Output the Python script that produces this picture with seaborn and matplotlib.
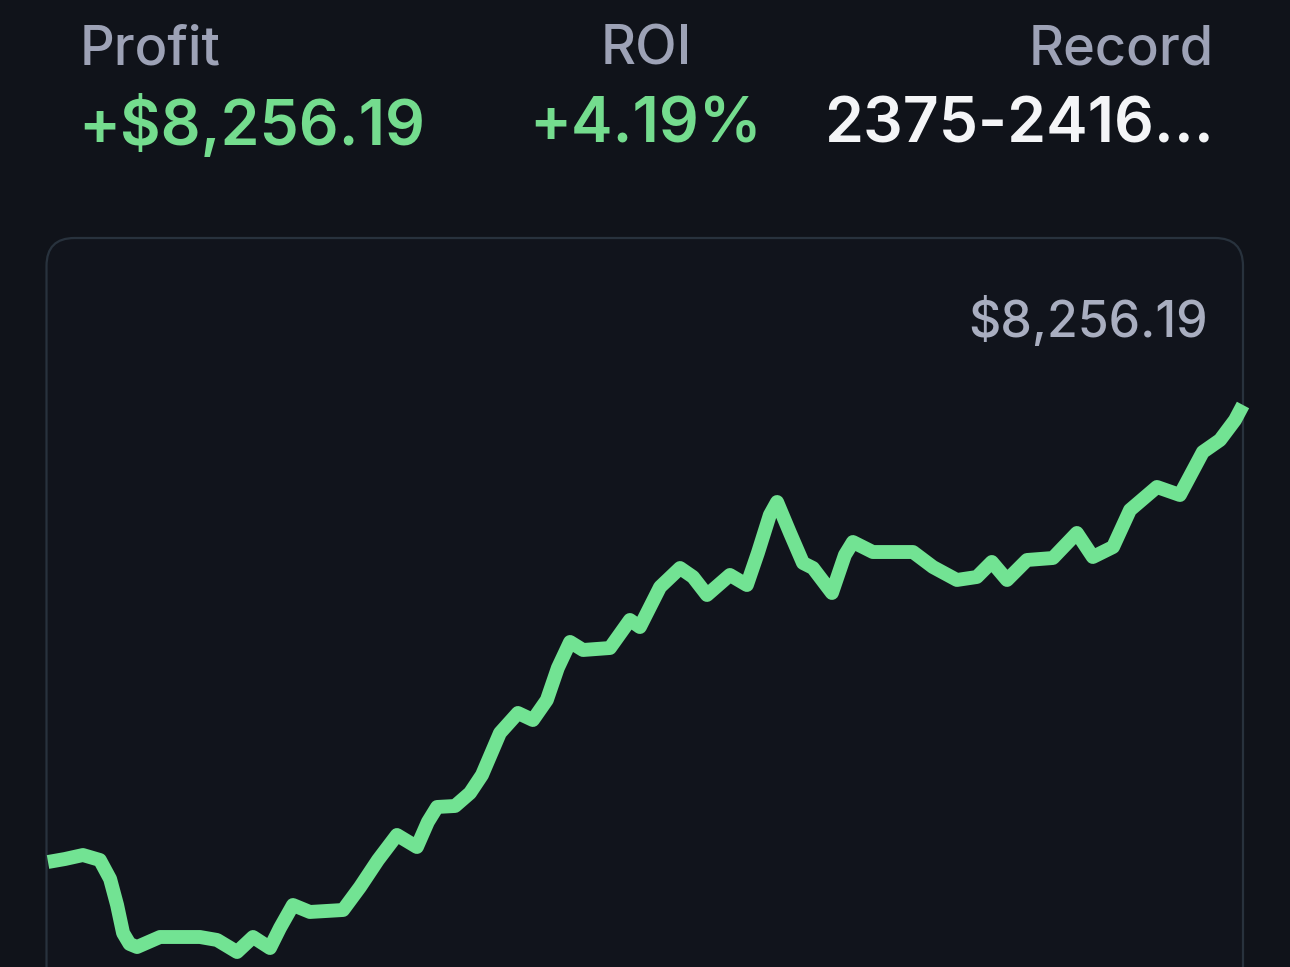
import matplotlib
matplotlib.use("Agg")
import matplotlib.pyplot as plt
from matplotlib.patches import FancyBboxPatch
import seaborn as sns
import pandas as pd

# ---- data ----
bets = [0, 68, 140, 208, 249, 277, 301, 327, 357, 449, 609, 678, 758, 822, 890, 930,
        982, 1050, 1183, 1251, 1323, 1399, 1479, 1523, 1560, 1632, 1692, 1740,
        1812, 1884, 1944, 2000, 2044, 2093, 2145, 2253, 2333, 2373, 2454, 2534,
        2586, 2642, 2734, 2802, 2846, 2894, 2923, 2975, 3027, 3067, 3143, 3195,
        3227, 3307, 3468, 3548, 3644, 3724, 3784, 3845, 3925, 4029, 4125, 4189,
        4270, 4338, 4446, 4538, 4630, 4699, 4759, 4791]
profit = [0, 54, 126, 36, -307, -777, -1283, -1480, -1536, -1355, -1355, -1409, -1626,
          -1355, -1554, -1192, -777, -903, -867, -452, 36, 488, 271, 723, 994,
          1012, 1247, 1572, 2331, 2692, 2565, 2927, 3505, 3975, 3830, 3866, 4372,
          4245, 4968, 5311, 5149, 4824, 5185, 5004, 5582, 6269, 6504, 5944, 5402,
          5311, 4860, 5546, 5781, 5600, 5600, 5329, 5095, 5149, 5420, 5095, 5456,
          5492, 5944, 5510, 5691, 6359, 6775, 6630, 7407, 7624, 7985, 8256.19]

header_labels = ["Profit", "ROI", "Record"]
header_values = ["+$8,256.19", "+4.19%", "2375-2416..."]
last_value_label = "$8,256.19"

BG = "#10131a"
GREEN = "#72e393"
GREEN_TXT = "#74dc8e"
GRAY = "#9da2b6"
GRAY2 = "#a9aec0"
WHITE = "#f4f5f7"

sns.set_theme(style="dark")
plt.rcParams['font.family'] = ['Inter', 'DejaVu Sans']

W, H = 1290, 967
fig = plt.figure(figsize=(W / 100, H / 100), dpi=100, facecolor=BG)

# panel with rounded border (inch coords, isotropic)
panel = FancyBboxPatch((0.465, -0.6), 12.43 - 0.465, (967 - 238) / 100 + 0.6,
                       boxstyle="round,pad=0,rounding_size=0.28",
                       transform=fig.dpi_scale_trans, facecolor="#11141c",
                       edgecolor="#28323d", linewidth=1.6, zorder=-5)
fig.patches.append(panel)

# axes mapped onto panel area
ax = fig.add_axes([48 / W, 0, 1195 / W, 1 - 238 / H])
ax.set_zorder(5)
ax.set_facecolor("none")
ax.patch.set_alpha(0)
df = pd.DataFrame({"bets": bets, "profit": profit})
sns.lineplot(data=df, x="bets", y="profit", ax=ax, color=GREEN, linewidth=10,
             clip_on=False, solid_joinstyle="round", solid_capstyle="butt")
ax.set_xlim(0, 4791)
ax.set_ylim(-1897, 11273)
ax.set_xlabel("")
ax.set_ylabel("")
ax.set_xticks([])
ax.set_yticks([])
for s in ax.spines.values():
    s.set_visible(False)
ax.grid(False)

# header texts
def fx(px):
    return px / W

def fy(py):
    return 1 - py / H

fig.text(fx(80), fy(50), header_labels[0], color=GRAY, fontsize=39,
         fontweight="medium", ha="left", va="center")
fig.text(fx(646), fy(50), header_labels[1], color=GRAY, fontsize=39,
         fontweight="medium", ha="center", va="center")
fig.text(fx(1214), fy(50), header_labels[2], color=GRAY, fontsize=39,
         fontweight="medium", ha="right", va="center")

fig.text(fx(78), fy(126), header_values[0], color=GREEN_TXT, fontsize=45,
         fontweight="semibold", ha="left", va="center")
fig.text(fx(646), fy(126), header_values[1], color=GREEN_TXT, fontsize=45,
         fontweight="semibold", ha="center", va="center")
fig.text(fx(1214), fy(126), header_values[2], color=WHITE, fontsize=45,
         fontweight="semibold", ha="right", va="center")

fig.text(fx(1208), fy(322), last_value_label, color=GRAY2, fontsize=36,
         fontweight="medium", ha="right", va="center")

fig.savefig("out.png", dpi=100, facecolor=BG)
